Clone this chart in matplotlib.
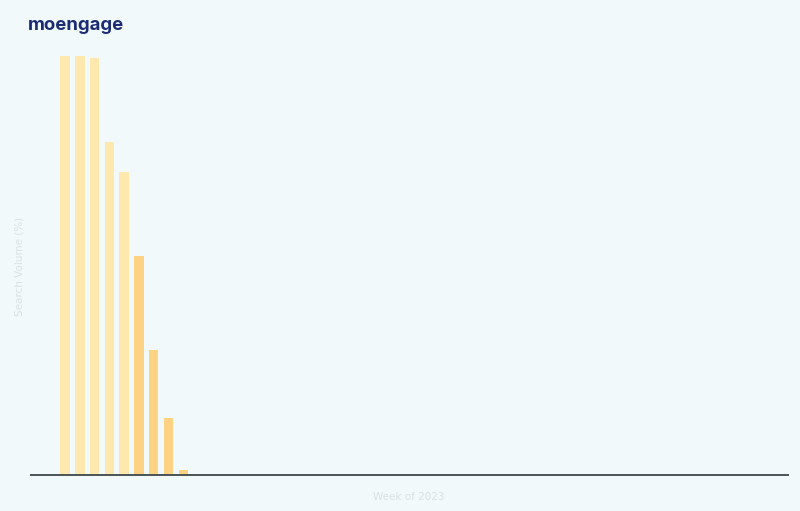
import matplotlib as mpl
mpl.use('Agg')
import matplotlib.pyplot as plt
import numpy as np

# weekly search volume, indexed to peak = 100
weeks = np.arange(9)
volume = [100, 100, 99.5, 79.5, 72.3, 52.3, 29.8, 13.6, 1.2]
shade = ['light'] * 5 + ['dark'] * 4

bg = '#F1F9FA'
colors = {'light': '#FFE8AE', 'dark': '#FDD283'}

fig = plt.figure(figsize=(8, 5.11), dpi=100, facecolor=bg)
ax = fig.add_axes([31 / 800, 36 / 511, 757 / 800, 419 / 511], facecolor=bg)

ax.bar(weeks, volume, width=0.64, color=[colors[s] for s in shade], zorder=2)

ax.set_xlim(-2.3, 48.9)
ax.set_ylim(0, 100)
for side in ['top', 'right', 'left']:
    ax.spines[side].set_visible(False)
ax.spines['bottom'].set_color('#4A5457')
ax.spines['bottom'].set_linewidth(1.4)
ax.set_xticks([])
ax.set_yticks([])

fig.text(409 / 800, 1 - 497 / 511, 'Week of 2023', ha='center', va='center',
         fontsize=7.5, color='#D9E1E4')
fig.text(20 / 800, 1 - 266 / 511, 'Search Volume (%)', ha='center', va='center',
         rotation=90, fontsize=7.5, color='#D9E1E4')

fig.text(28 / 800, 1 - 26 / 511, 'moengage', ha='left', va='center',
         fontsize=13.4, fontweight='bold', color='#1C2C74', family='Inter')

fig.savefig('out.png', dpi=100, facecolor=bg)
